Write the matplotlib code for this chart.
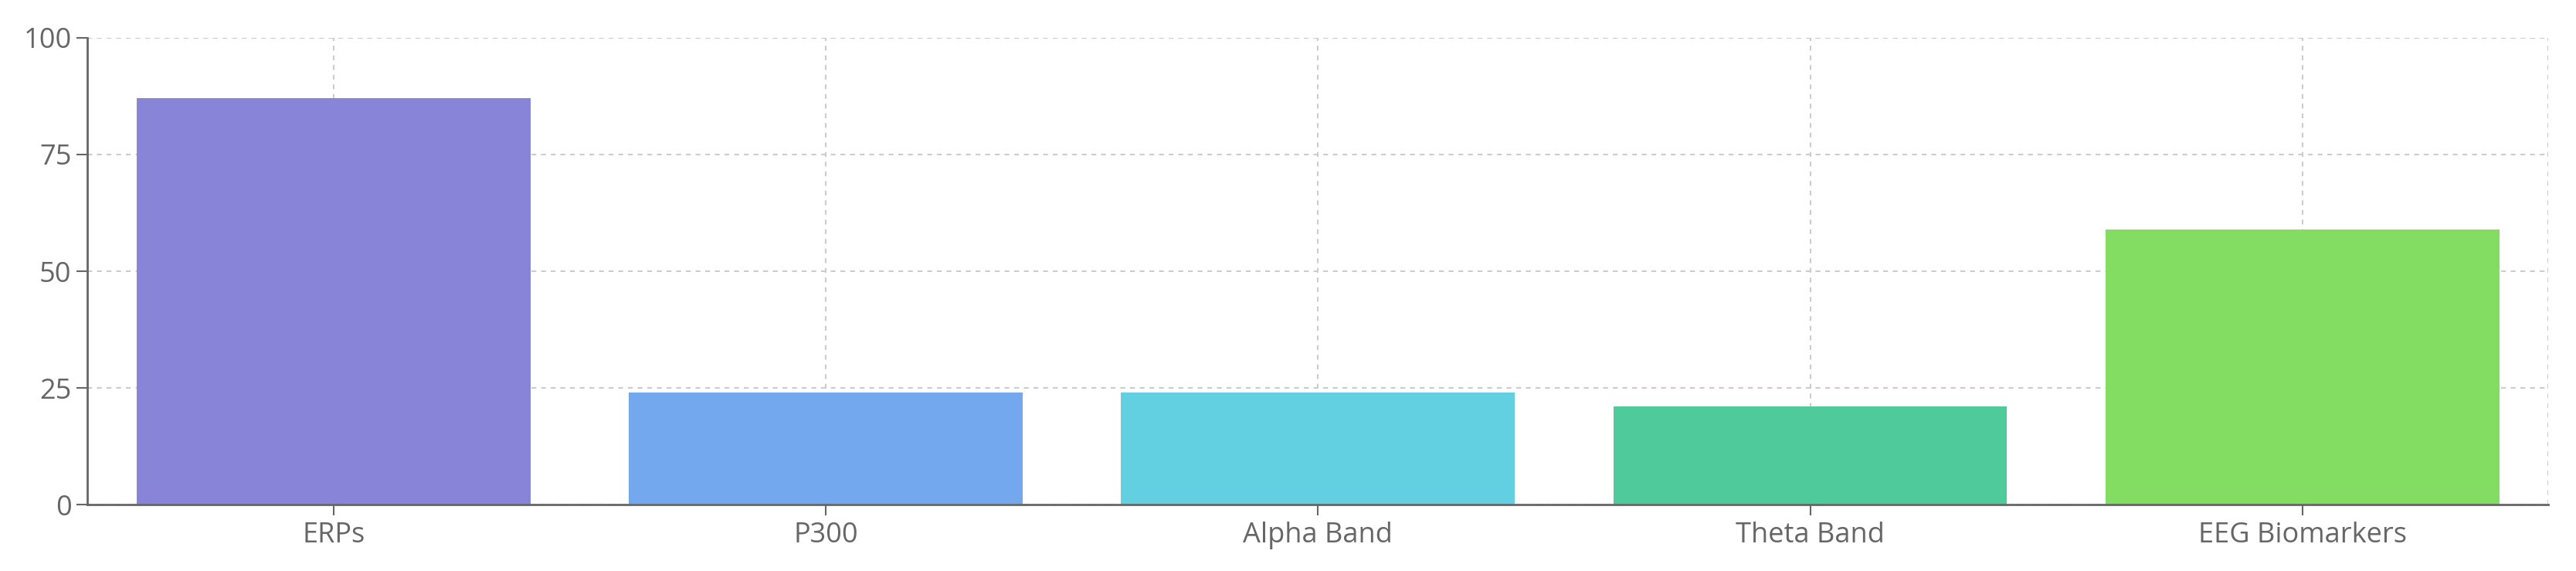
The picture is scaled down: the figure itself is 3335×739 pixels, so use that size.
import matplotlib
matplotlib.use("Agg")
import matplotlib.pyplot as plt
import numpy as np

categories = ["ERPs", "P300", "Alpha Band", "Theta Band", "EEG Biomarkers"]
values = [87, 24, 24, 21, 59]
colors = ["#8884d8", "#73a7ee", "#62d0e0", "#4fca9a", "#84dd63"]
yticks = [0, 25, 50, 75, 100]

plt.rcParams['font.family'] = ['Open Sans', 'DejaVu Sans']

fig = plt.figure(figsize=(33.35, 7.39), dpi=100)
ax = fig.add_axes([0.034, 0.116, 0.9553, 0.818])

x = np.arange(len(categories))
ax.bar(x, values, width=0.8, color=colors, zorder=2)

ax.set_xlim(-0.5, len(categories) - 0.5)
ax.set_ylim(0, 100)
ax.set_xticks(x)
ax.set_xticklabels(categories)
ax.set_yticks(yticks)

# dashed grid, like the original
ax.grid(True, color="#cccccc", linestyle=(0, (3, 3)), linewidth=1.5, zorder=0)
ax.axhline(100, color="#cccccc", linestyle=(0, (3, 3)), linewidth=1.5, zorder=0)
ax.axvline(len(categories) - 0.5, color="#cccccc", linestyle=(0, (3, 3)), linewidth=1.5, zorder=0)

for side in ["top", "right"]:
    ax.spines[side].set_visible(False)
for side in ["left", "bottom"]:
    ax.spines[side].set_color("#666666")
    ax.spines[side].set_linewidth(2)
    ax.spines[side].set_zorder(3)

ax.tick_params(axis="both", colors="#666666", labelsize=26, length=10, width=1.5)
ax.tick_params(axis="x", pad=6)
ax.tick_params(axis="y", pad=5)

fig.savefig("out.png", dpi=100, facecolor="white")
